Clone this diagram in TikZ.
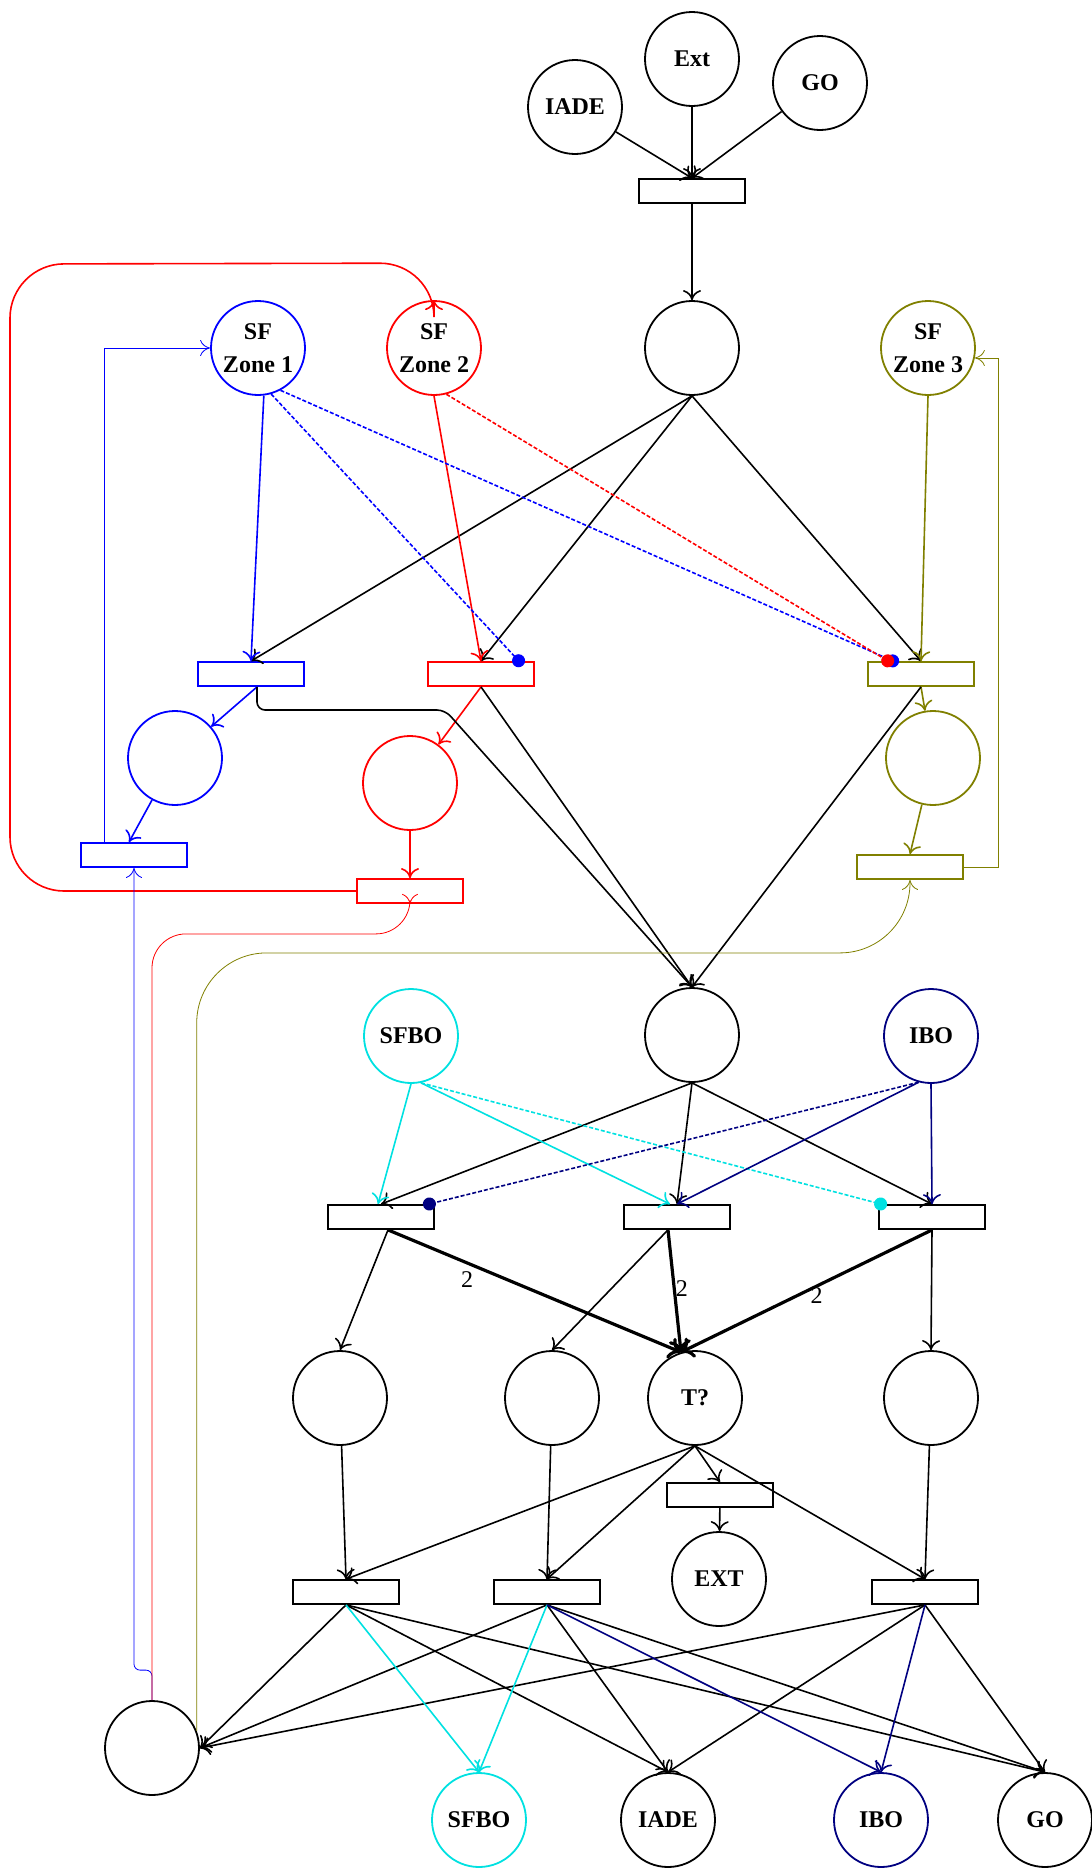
\documentclass[tikz,border=0pt]{standalone}
\usepackage{fontspec}
\setmainfont{Liberation Serif}
\usetikzlibrary{arrows.meta,calc}

\definecolor{olivez}{RGB}{128,128,0}
\definecolor{cyanbo}{RGB}{0,225,225}
\definecolor{navybo}{RGB}{0,0,128}

\begin{document}
\begin{tikzpicture}[x=0.5pt,y=-0.5pt,
    place/.style={draw,circle,line width=0.9pt,minimum size=47pt,inner sep=0pt,align=center,
                  font=\fontsize{12}{16.5}\selectfont\bfseries},
    transit/.style={draw,rectangle,line width=0.9pt,minimum width=53pt,minimum height=12pt,inner sep=0pt},
    flow/.style={line width=0.8pt,-{To[length=5pt,width=9pt]}},
    heavy/.style={line width=1.6pt,-{To[length=6pt,width=11pt]}},
    backarc/.style={line width=0.4pt,-{To[length=5pt,width=8pt]}},
    readarc/.style={line width=0.8pt,dash pattern=on 2pt off 1pt,-{Circle[length=6.5pt]},shorten >=-3pt},
    wlabel/.style={font=\fontsize{12}{14}\selectfont}]
    \useasboundingbox (0,0) rectangle (1092,1869);

    % entry
    \node[place] (IADE) at (575,107) {IADE};
    \node[place] (Ext) at (692,59) {Ext};
    \node[place] (GO) at (820,83) {GO};
    \node[transit] (Tin) at (692,191) {};
    \node[place] (Pstart) at (692,348) {};

    % zones
    \node[place,draw=blue] (SFZ1) at (258,348) {SF\\Zone 1};
    \node[place,draw=red] (SFZ2) at (434,348) {SF\\Zone 2};
    \node[place,draw=olivez] (SFZ3) at (928,348) {SF\\Zone 3};
    \node[transit,draw=blue] (Tz1a) at (251,674) {};
    \node[transit,draw=red] (Tz2a) at (481,674) {};
    \node[transit,draw=olivez] (Tz3a) at (921,674) {};
    \node[place,draw=blue] (Pz1) at (175,758) {};
    \node[place,draw=red] (Pz2) at (410,783) {};
    \node[place,draw=olivez] (Pz3) at (933,758) {};
    \node[transit,draw=blue] (Tz1b) at (134,855) {};
    \node[transit,draw=red] (Tz2b) at (410,891) {};
    \node[transit,draw=olivez] (Tz3b) at (910,867) {};

    % back office
    \node[place] (Pmid) at (692,1035) {};
    \node[place,draw=cyanbo] (SFBOa) at (411,1036) {SFBO};
    \node[place,draw=navybo] (IBOa) at (931,1036) {IBO};
    \node[transit] (TL) at (381,1217) {};
    \node[transit] (TM) at (677,1217) {};
    \node[transit] (TR) at (932,1217) {};
    \node[place] (PA) at (340,1398) {};
    \node[place] (PB) at (552,1398) {};
    \node[place] (Ptest) at (695,1398) {T?};
    \node[place] (PD) at (931,1398) {};
    \node[transit] (Text) at (720,1495) {};
    \node[place] (EXT) at (719,1579) {EXT};
    \node[transit] (TA) at (346,1592) {};
    \node[transit] (TB) at (547,1592) {};
    \node[transit] (TD) at (925,1592) {};

    % release
    \node[place] (Pres) at (152,1748) {};
    \node[place,draw=cyanbo] (SFBOb) at (479,1820) {SFBO};
    \node[place] (IADEb) at (668,1820) {IADE};
    \node[place,draw=navybo] (IBOb) at (881,1820) {IBO};
    \node[place] (GOb) at (1045,1820) {GO};

    % arcs, upper part
    \foreach \p in {IADE,Ext,GO}
        \draw[flow] (\p) -- (Tin.north);
    \draw[flow] (Tin) -- (Pstart);
    \foreach \t in {Tz1a,Tz2a,Tz3a}
        \draw[flow] (Pstart.south) -- (\t.north);
    \draw[flow,blue] (SFZ1.-83) -- (Tz1a.north);
    \draw[flow,red] (SFZ2.south) -- (Tz2a.north);
    \draw[flow,olivez] (SFZ3.south) -- (Tz3a.north);
    \draw[readarc,blue] (SFZ1.-74) -- ($(Tz2a.north east)+(-16,0)$);
    \draw[readarc,blue] (SFZ1.-62) -- ($(Tz3a.north west)+(26,0)$);
    \draw[readarc,red] (SFZ2.-75) -- ($(Tz3a.north west)+(21,0)$);

    \draw[flow,blue] ($(Tz1a.south)+(6,0)$) -- (Pz1);
    \draw[flow,blue] (Pz1) -- ($(Tz1b.north)+(-5,0)$);
    \draw[flow,red] (Tz2a.south) -- (Pz2);
    \draw[flow,red] (Pz2) -- (Tz2b.north);
    \draw[flow,olivez] (Tz3a.south) -- (Pz3);
    \draw[flow,olivez] (Pz3) -- (Tz3b.north);

    \draw[flow,rounded corners=4pt] ($(Tz1a.south)+(6,0)$) |- (445,710) [rounded corners=25pt] -- (Pmid.north);
    \draw[flow] (Tz2a.south) -- (Pmid.north);
    \draw[flow] (Tz3a.south) -- (Pmid.north);

    % loops back to the zones
    \draw[backarc,blue] ($(Tz1b.north)+(-30,0)$) |- (SFZ1.west);
    \draw[flow,red,rounded corners=27pt] (Tz2b.west) -| (10,264) -- ($(SFZ2.north)+(0,-37)$)
        [rounded corners=9pt] -- (SFZ2.north);
    \draw[backarc,olivez] (Tz3b.east) -| ($(SFZ3.-12)+(24,0)$) -- (SFZ3.-12);

    \draw[backarc,blue,rounded corners=3pt] (Pres.north) -- ++(0,-30) -| (Tz1b.south);
    \draw[backarc,red,rounded corners=17pt] (Pres.north) |- ($(Tz2b.south)+(0,30)$)
        [rounded corners=5pt] -- (Tz2b.south);
    \draw[backarc,olivez,rounded corners=35pt] (Pres.21) |- ($(Tz3b.south)+(0,73)$)
        [rounded corners=15pt] -- (Tz3b.south);

    % arcs, lower part
    \foreach \t in {TL,TM,TR}
        \draw[flow] (Pmid.south) -- (\t.north);
    \draw[flow,cyanbo] (SFBOa.south) -- ($(TL.north)+(-3,0)$);
    \draw[flow,cyanbo] (SFBOa.-78) -- ($(TM.north)+(-7,0)$);
    \draw[readarc,cyanbo] (SFBOa.-78) -- ($(TR.north west)+(3,0)$);
    \draw[flow,navybo] (IBOa.-105) -- (TM.north);
    \draw[flow,navybo] (IBOa.south) -- (TR.north);
    \draw[readarc,navybo] (IBOa.-105) -- ($(TL.north east)+(-6,0)$);

    \draw[flow] ($(TL.south)+(7,0)$) -- (PA.north);
    \draw[flow] ($(TM.south)+(-9,0)$) -- (PB.north);
    \draw[flow] (TR.south) -- (PD.north);
    \draw[heavy] ($(TL.south)+(7,0)$) -- node[wlabel,pos=0.27,below] {2} (Ptest.107);
    \draw[heavy] ($(TM.south)+(-9,0)$) -- node[wlabel,pos=0.48,anchor=west,inner sep=0pt] {2} (Ptest.107);
    \draw[heavy] (TR.south) -- node[wlabel,pos=0.46,anchor=north,inner sep=0pt] {2} (Ptest.107);

    \foreach \t in {TA,TB,Text,TD}
        \draw[flow] (Ptest.south) -- (\t.north);
    \draw[flow] (Text) -- (EXT);
    \draw[flow] (PA) -- (TA.north);
    \draw[flow] (PB) -- (TB.north);
    \draw[flow] (PD) -- (TD.north);

    \foreach \t in {TA,TB,TD}{
        \draw[flow] (\t.south) -- (Pres.east);
        \draw[flow] (\t.south) -- (IADEb.north);
        \draw[flow] (\t.south) -- (GOb.north);
    }
    \draw[flow,cyanbo] (TA.south) -- (SFBOb.north);
    \draw[flow,cyanbo] (TB.south) -- (SFBOb.north);
    \draw[flow,navybo] (TB.south) -- (IBOb.north);
    \draw[flow,navybo] (TD.south) -- (IBOb.north);
\end{tikzpicture}
\end{document}
